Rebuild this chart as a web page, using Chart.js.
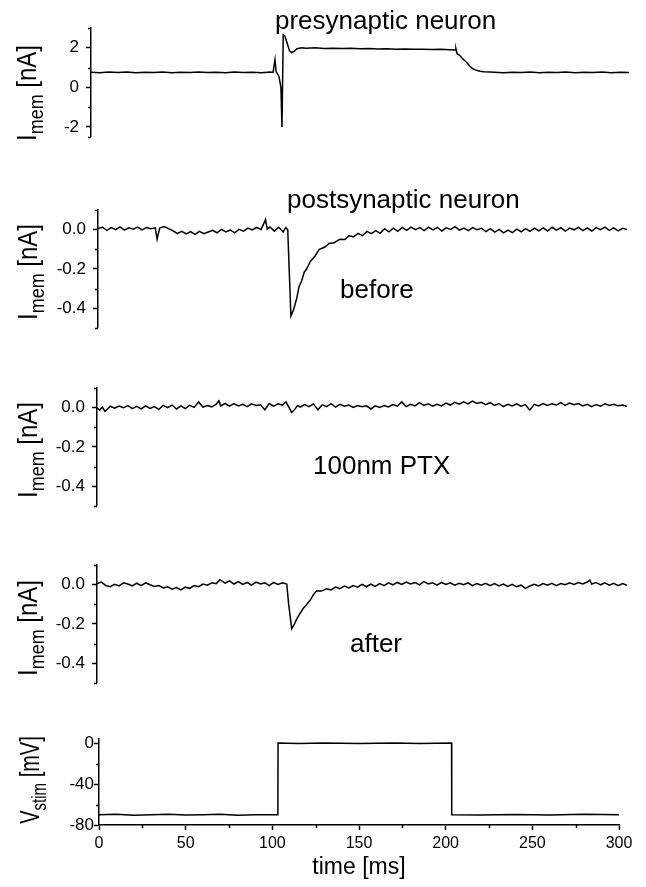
<!DOCTYPE html>
<html>
<head>
<meta charset="utf-8">
<script src="https://cdn.jsdelivr.net/npm/chart.js@4.4.1/dist/chart.umd.min.js"></script>
<style>
  body { margin: 0; background: #fff; }
  #wrap { position: relative; width: 646px; height: 887px; font-family: 'Liberation Sans', Arial, sans-serif; color: #000; overflow: hidden; }
  canvas { position: absolute; left: 0; }
  .note { position: absolute; font-size: 26px; line-height: 26px; white-space: nowrap; }
  .ytitle { position: absolute; font-size: 24px; line-height: 24px; white-space: nowrap; transform: translate(-50%, -50%) rotate(-90deg) scaleY(1.15); }
  .ytitle sub { font-size: 18px; vertical-align: -6px; line-height: 0; }
  .ytitle.small { font-size: 20px; line-height: 20px; transform: translate(-50%, -50%) rotate(-90deg) scaleY(1.35); }
  .ytitle.small sub { font-size: 15px; vertical-align: -5px; }
</style>
</head>
<body>
<div id="wrap">
  <canvas id="c1" width="646" height="154"></canvas>
  <canvas id="c2" width="646" height="152"></canvas>
  <canvas id="c3" width="646" height="152"></canvas>
  <canvas id="c4" width="646" height="152"></canvas>
  <canvas id="c5" width="646" height="168"></canvas>

  <div class="note" style="left:275px; top:7px;">presynaptic neuron</div>
  <div class="note" style="left:287px; top:186px;">postsynaptic neuron</div>
  <div class="note" style="left:340px; top:276px;">before</div>
  <div class="note" style="left:313px; top:452px;">100nm PTX</div>
  <div class="note" style="left:350px; top:630px;">after</div>

  <div class="ytitle" style="left:27px; top:93px;">I<sub>mem</sub> [nA]</div>
  <div class="ytitle" style="left:28px; top:272px;">I<sub>mem</sub> [nA]</div>
  <div class="ytitle" style="left:28px; top:450px;">I<sub>mem</sub> [nA]</div>
  <div class="ytitle" style="left:28px; top:628px;">I<sub>mem</sub> [nA]</div>
  <div class="ytitle small" style="left:30px; top:780px;">V<sub>stim</sub> [mV]</div>
</div>

<script>
// traces, [time ms, value]
var presynTrace = [[0,0.76],[5,0.74],[10,0.77],[15,0.75],[20,0.78],[25,0.74],[30,0.76],[35,0.75],[40,0.77],[45,0.74],
  [50,0.76],[55,0.75],[60,0.78],[65,0.75],[70,0.76],[75,0.74],[80,0.77],[85,0.75],[90,0.76],[95,0.74],[100,0.77],
  [101.5,0.75],[102.6,1.40],[103.2,0.80],[104.8,0.55],[105.9,0.0],[106.5,-2.0],[107.2,2.65],[108.1,2.60],[109.3,2.25],
  [110.7,1.85],[111.9,1.76],[113.2,1.82],[114.9,1.95],[117.5,2.0],[120,1.98],[125,2.0],[130,1.97],[135,1.98],[140,1.96],
  [145,1.97],[150,1.95],[155,1.96],[160,1.94],[165,1.95],[170,1.93],[175,1.94],[180,1.92],[185,1.93],[190,1.91],
  [195,1.92],[200,1.90],[203,1.89],[203.5,1.95],[204.1,1.70],[204.6,1.68],[205.8,1.60],[207.5,1.42],[209.5,1.26],
  [211.2,1.08],[213,0.93],[215,0.86],[216.9,0.81],[219,0.79],[222.5,0.77],[225,0.76],[230,0.74],[235,0.76],[240,0.75],
  [245,0.77],[250,0.74],[255,0.76],[260,0.75],[265,0.77],[270,0.74],[275,0.76],[280,0.75],[285,0.77],[290,0.74],
  [295,0.76],[300,0.75]];

var beforeTrace = [[0,0.006],[2.5,0.013],[5,-0.003],[7.5,0.011],[10,0.001],[12.5,0.015],[15,-0.002],[17.5,0.010],
  [20,0.003],[22.5,0.014],[25,0.000],[27.5,0.012],[30,0.005],[32.5,0.010],[33.5,-0.048],[35,0.009],[37.5,0.017],
  [40,0.006],[42.5,-0.005],[45,-0.019],[47.5,-0.008],[50,-0.021],[52.5,-0.009],[55,-0.023],[57.5,-0.008],[60,-0.020],
  [62.5,-0.011],[65,-0.003],[67.5,-0.015],[70,0.002],[72.5,-0.011],[75,-0.001],[77.5,-0.016],[80,0.002],[82.5,-0.007],
  [85,0.009],[87.5,-0.001],[90,0.012],[92.5,0.002],[95,0.052],[96,0.003],[97.5,0.014],[100,-0.007],[102.5,0.013],
  [105,-0.011],[106.5,0.012],[107.6,0.0],[108.5,-0.22],[109.4,-0.44],[111,-0.405],[112.7,-0.35],[114,-0.29],
  [115.5,-0.26],[117,-0.215],[118.3,-0.2],[120.5,-0.16],[123,-0.135],[125.5,-0.1],[128.7,-0.088],[131,-0.07],
  [134,-0.066],[137.2,-0.048],[140,-0.05],[142.5,-0.03],[145,-0.036],[147.5,-0.018],[150,-0.03],[152.5,-0.008],
  [155,-0.02],[157.5,-0.004],[160,-0.018],[162.5,0.005],[165,-0.01],[167.5,0.008],[170,-0.008],[172.5,0.012],
  [175,-0.003],[177.5,0.014],[180,0.001],[182.5,0.011],[185,-0.004],[187.5,0.013],[190,0.000],[192.5,0.012],
  [195,-0.006],[197.5,0.010],[200,0.002],[202.5,0.016],[205,-0.002],[207.5,0.009],[210,-0.004],[212.5,0.011],
  [215,0.000],[217.5,0.008],[220,-0.009],[222.5,0.006],[225,-0.012],[227.5,0.002],[230,-0.016],[232.5,-0.002],
  [235,-0.014],[237.5,0.003],[240,-0.010],[242.5,0.006],[245,-0.008],[247.5,0.009],[250,-0.005],[252.5,0.010],
  [255,-0.006],[257.5,0.013],[260,-0.002],[262.5,0.011],[265,-0.007],[267.5,0.009],[270,0.000],[272.5,0.012],
  [275,-0.004],[277.5,0.010],[280,-0.006],[282.5,0.011],[285,0.001],[287.5,0.014],[290,-0.003],[292.5,0.010],
  [295,-0.005],[297.5,0.008],[300,0.002]];

var ptxTrace = [[0,0.0],[1.5,-0.012],[3,0.004],[4.5,-0.018],[6,-0.006],[7.5,0.008],[10,-0.002],[12.5,0.009],[15,0.000],
  [17.5,0.011],[20,-0.004],[22.5,0.007],[25,-0.006],[27.5,0.010],[30,-0.003],[32.5,0.006],[35,-0.008],[37.5,0.012],
  [40,0.001],[42.5,0.014],[45,-0.006],[47.5,0.010],[50,-0.004],[52.5,0.013],[55,0.002],[57.5,0.030],[60,0.004],
  [62.5,0.012],[65,0.005],[67.5,0.018],[69,0.036],[70,0.010],[72.5,0.022],[75,0.008],[77.5,0.021],[80,0.010],
  [82.5,0.018],[85,0.006],[87.5,0.020],[90,0.012],[92.5,0.015],[95,-0.010],[97.5,0.022],[100,0.008],[102.5,0.020],
  [105,0.014],[107,0.030],[108.5,0.005],[110.2,-0.024],[112,-0.008],[113.5,0.012],[115,0.004],[117.5,0.016],
  [120,0.006],[122.5,0.020],[125,-0.010],[127.5,0.015],[130,0.006],[132.5,0.021],[135,0.004],[137.5,0.018],
  [140,0.008],[142.5,0.014],[145,0.002],[147.5,0.012],[150,0.006],[152.5,0.010],[155,-0.006],[157.5,0.010],
  [160,0.002],[162.5,0.012],[165,0.004],[167.5,0.016],[170,0.008],[172.5,0.030],[175,0.006],[177.5,0.018],
  [180,0.010],[182.5,0.026],[185,0.012],[187.5,0.020],[190,0.008],[192.5,0.018],[195,0.010],[197.5,0.024],
  [200,0.014],[202.5,0.028],[205,0.018],[207.5,0.030],[210,0.020],[212.5,0.034],[215,0.022],[217.5,0.028],
  [220,0.016],[222.5,0.026],[225,0.012],[227.5,0.022],[230,0.006],[232.5,0.018],[235,0.010],[237.5,0.020],
  [240,0.008],[242.5,0.016],[245,-0.012],[247.5,0.018],[250,0.010],[252.5,0.022],[255,0.012],[257.5,0.020],
  [260,0.014],[262.5,0.026],[265,0.012],[267.5,0.024],[270,0.016],[272.5,0.022],[275,0.010],[277.5,0.018],
  [280,0.006],[282.5,0.016],[285,0.008],[287.5,0.020],[290,0.012],[292.5,0.018],[295,0.010],[297.5,0.014],[300,0.006]];

var afterTrace = [[0,0.006],[2.5,0.014],[5,-0.004],[7.5,-0.010],[10,0.002],[12.5,-0.006],[15,0.010],[17.5,0.004],
  [20,-0.006],[22.5,0.008],[25,-0.004],[27.5,0.010],[30,0.000],[32.5,-0.008],[35,-0.004],[37.5,-0.016],[40,-0.010],
  [42.5,-0.022],[45,-0.014],[47.5,-0.026],[50,-0.012],[52.5,-0.018],[55,-0.004],[57.5,-0.010],[60,0.004],[62.5,-0.002],
  [65,0.010],[67.5,0.006],[69.6,0.026],[72.5,0.008],[75,0.020],[77.5,0.004],[80,0.016],[82.5,0.002],[85,0.012],
  [87.5,-0.002],[90,0.014],[92.5,0.004],[95,0.010],[97.5,-0.004],[100,0.012],[102.5,0.002],[105,0.010],[107.4,0.004],
  [108.5,-0.10],[110.2,-0.224],[111.5,-0.205],[113,-0.175],[115,-0.145],[116.8,-0.12],[118.7,-0.1],[120.6,-0.079],
  [122.5,-0.05],[124.4,-0.03],[127,-0.032],[130,-0.020],[132.5,-0.026],[135,-0.012],[137.5,-0.020],[140,-0.006],
  [142.5,-0.016],[145,-0.004],[147.5,-0.012],[150,0.002],[152.5,-0.010],[155,0.004],[157.5,-0.008],[160,0.006],
  [162.5,-0.004],[165,0.010],[167.5,0.000],[170,0.012],[172.5,0.002],[175,0.014],[177.5,0.004],[180,0.012],
  [182.5,0.000],[185,0.016],[187.5,0.004],[190,0.010],[192.5,-0.002],[195,0.012],[197.5,0.002],[200,0.010],
  [202.5,-0.002],[205,0.008],[207.5,0.000],[210,0.010],[212.5,-0.004],[215,0.006],[217.5,-0.002],[220,0.008],
  [222.5,-0.004],[225,0.006],[227.5,-0.006],[230,0.004],[232.5,-0.008],[235,0.002],[237.5,-0.010],[240,-0.002],
  [242.5,-0.018],[245,-0.006],[247.5,0.002],[250,-0.006],[252.5,0.006],[255,-0.002],[257.5,0.008],[260,-0.004],
  [262.5,0.006],[265,0.000],[267.5,0.010],[270,0.002],[272.5,0.012],[275,0.004],[277.5,0.014],[279,0.024],
  [280,0.004],[282.5,0.012],[285,0.000],[287.5,0.010],[290,-0.002],[292.5,0.008],[295,-0.004],[297.5,0.006],[300,-0.003]];

var stimTrace = [[0,-70],[10,-69.5],[20,-70.5],[30,-70],[40,-69.6],[50,-70.3],[60,-70],[70,-69.5],[80,-70.4],[90,-70],
  [103.2,-70],[103.3,0],[115,-0.5],[130,0],[150,-0.4],[170,0],[185,-0.5],[203.4,0],[203.5,-70],[220,-70.3],
  [240,-69.7],[260,-70.2],[280,-69.6],[300,-70]];

// tick values
var timeTicks = [0, 50, 100, 150, 200, 250, 300];
var timeMinor = [25, 75, 125, 175, 225, 275];
var presynTicks = [2, 0, -2];
var presynMinor = [3, 1, -1, -2.5];
var currentTicks = [0, -0.2, -0.4];
var currentMinor = [0.1, -0.1, -0.3, -0.5];
var stimTicks = [0, -40, -80];
var stimMinor = [-20, -60];

Chart.defaults.font.family = "'Liberation Sans', Arial, sans-serif";
Chart.defaults.color = '#000';

// short unlabeled ticks, placed through the chart's own scales
var minorTicks = {
  id: 'minorTicks',
  afterDraw: function(chart, args, o) {
    var ctx = chart.ctx;
    ctx.save();
    ctx.strokeStyle = '#000';
    ctx.lineWidth = 1.5;
    var ys = chart.scales.y;
    (o.y || []).forEach(function(v) {
      var py = Math.round(ys.getPixelForValue(v)) + 0.5;
      ctx.beginPath(); ctx.moveTo(ys.right - 3, py); ctx.lineTo(ys.right, py); ctx.stroke();
    });
    var xs = chart.scales.x;
    (o.x || []).forEach(function(v) {
      var px = Math.round(xs.getPixelForValue(v)) + 0.5;
      ctx.beginPath(); ctx.moveTo(px, xs.top); ctx.lineTo(px, xs.top + 3); ctx.stroke();
    });
    ctx.restore();
  }
};

function toXY(pairs) {
  return pairs.map(function(p) { return {x: p[0], y: p[1]}; });
}

function fixedTicks(values) {
  return function(scale) { scale.ticks = values.map(function(v) { return {value: v}; }); };
}

/**
 * one stacked panel
 * area = [left, top, right, bottom] of the plot area inside the canvas
 */
function drawPanel(canvasId, pageTop, area, trace, yMin, yMax, yTicks, yMinor, decimals, withTime) {
  var canvas = document.getElementById(canvasId);
  canvas.style.top = pageTop + 'px';
  var axisW = 60;
  var xAxisH = 62;
  var xScale = {
    type: 'linear', min: 0, max: 300, display: false
  };
  if (withTime) {
    xScale = {
      type: 'linear', min: 0, max: 300,
      afterBuildTicks: fixedTicks(timeTicks),
      afterFit: function(s) { s.height = xAxisH; },
      border: {display: true, color: '#000', width: 1.5},
      grid: {drawOnChartArea: false, drawTicks: true, tickLength: 5, tickColor: '#000', tickWidth: 1.5},
      ticks: {font: {size: 16}, padding: 4, maxRotation: 0, autoSkip: false,
        callback: function(v) { return String(v); }},
      title: {display: true, text: 'time [ms]', font: {size: 23}, padding: {top: 0, bottom: 6}}
    };
  }
  new Chart(canvas.getContext('2d'), {
    type: 'line',
    data: {
      datasets: [{
        data: toXY(trace),
        borderColor: '#000',
        borderWidth: 1.5,
        pointRadius: 0,
        tension: 0,
        fill: false
      }]
    },
    options: {
      responsive: false,
      animation: false,
      devicePixelRatio: 1,
      layout: {
        padding: {
          left: area[0] - axisW,
          top: area[1],
          right: canvas.width - area[2],
          bottom: withTime ? 0 : canvas.height - area[3]
        }
      },
      plugins: {
        legend: {display: false},
        tooltip: {enabled: false},
        minorTicks: {y: yMinor, x: withTime ? timeMinor : []}
      },
      scales: {
        x: xScale,
        y: {
          min: yMin, max: yMax,
          afterBuildTicks: fixedTicks(yTicks),
          afterFit: function(s) { s.width = axisW; },
          border: {display: true, color: '#000', width: 1.5},
          grid: {drawOnChartArea: false, drawTicks: true, tickLength: 5, tickColor: '#000', tickWidth: 1.5},
          ticks: {font: {size: 17}, padding: withTime ? 0 : 7, autoSkip: false,
            callback: function(v) { return Number(v).toFixed(decimals); }}
        }
      }
    },
    plugins: [minorTicks]
  });
}

drawPanel('c1', 0, [91, 28, 629, 154], presynTrace, -2.5, 3, presynTicks, presynMinor, 0, false);
drawPanel('c2', 193, [98, 14, 627, 138], beforeTrace, -0.5, 0.1, currentTicks, currentMinor, 1, false);
drawPanel('c3', 371, [97, 14, 627, 138], ptxTrace, -0.5, 0.1, currentTicks, currentMinor, 1, false);
drawPanel('c4', 548, [97, 14, 627, 138], afterTrace, -0.5, 0.1, currentTicks, currentMinor, 1, false);
drawPanel('c5', 719, [99, 20, 619, 106], stimTrace, -80, 4, stimTicks, stimMinor, 0, true);
</script>
</body>
</html>
